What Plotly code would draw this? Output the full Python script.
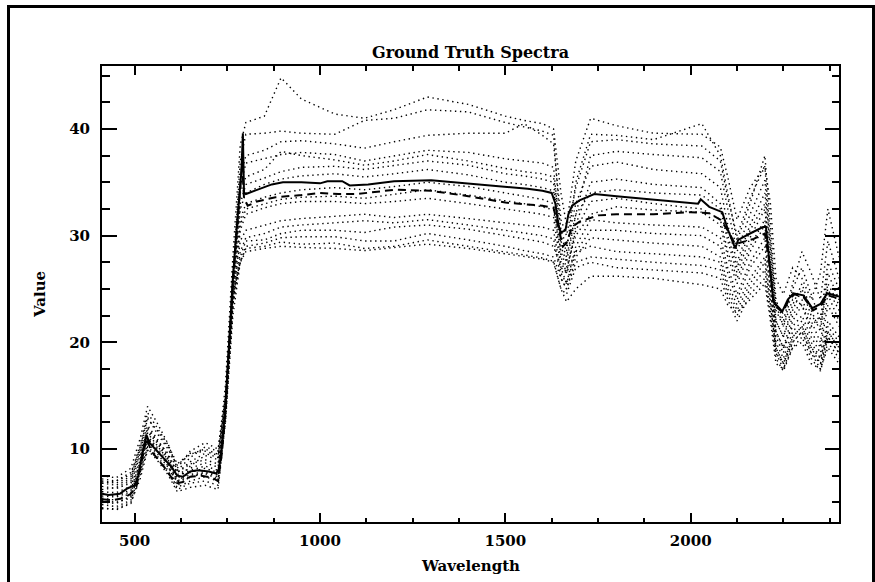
import plotly.graph_objects as go

# ---------------- data ----------------
wavelength = [412, 450, 490, 515, 535, 560, 590, 615, 650, 690, 725,
              745, 765, 785,
              800, 850, 895, 950, 1040, 1120, 1200, 1290, 1400, 1500, 1550, 1600, 1630,
              1650, 1665, 1690,
              1730, 1800, 1900, 2030, 2080, 2100, 2125, 2160, 2200,
              2215, 2230, 2250, 2275, 2300, 2325, 2350, 2370, 2400]

spectrum_01 = [6.8, 7.0, 7.8, 10.0, 13.0, 11.5, 10.0, 8.5, 9.5, 10.0, 9.5,
               16, 28, 38.5,
               40.6, 41.2, 44.8, 42.8, 41.4, 41.0, 41.8, 43.0, 42.3, 41.2, 40.8, 40.5, 40.0,
               34.0, 31.0, 37.0,
               41.0, 40.3, 39.6, 39.5, 38.3, 35.5, 31.5, 34.5, 36.5,
               33.0, 26.0, 24.5, 27.0, 26.0, 24.0, 26.5, 32.5, 28.0]
spectrum_02 = [5.0, 4.9, 5.6, 8.0, 10.5, 9.6, 8.3, 6.9, 7.4, 7.8, 7.4,
               14, 26, 37,
               39.5, 39.6, 39.8, 39.6, 39.5, 40.8, 41.0, 41.8, 41.6, 40.6, 40.2, 39.8, 39.4,
               30.0, 28.5, 35.0,
               39.5, 39.4, 39.0, 40.5, 37.5, 34.0, 29.5, 33.0, 37.5,
               31.0, 24.0, 22.0, 25.5, 28.5, 26.5, 24.0, 29.5, 26.0]
spectrum_03 = [7.5, 7.3, 8.2, 11.0, 14.0, 12.5, 10.5, 8.2, 9.8, 10.6, 10.0,
               15, 27, 35.5,
               37.5, 38.0, 38.8, 38.9, 38.6, 38.2, 38.8, 39.4, 39.6, 39.6, 40.5, 39.4, 38.6,
               31.5, 30.0, 34.5,
               38.8, 39.0, 38.6, 38.4, 37.0, 33.5, 30.0, 33.5, 36.5,
               30.0, 23.0, 21.5, 24.0, 23.5, 21.5, 22.5, 25.0, 23.0]
spectrum_04 = [4.5, 4.3, 4.9, 7.6, 10.0, 9.2, 7.8, 6.2, 6.8, 7.0, 6.6,
               13, 25, 34.5,
               36.8, 37.2, 37.6, 37.8, 37.6, 37.0, 37.5, 38.0, 37.8, 37.2, 37.0, 36.8, 36.4,
               29.0, 27.5, 32.0,
               37.5, 37.9, 37.6, 37.3, 36.0, 32.5, 28.5, 32.0, 35.2,
               28.5, 22.0, 20.5, 23.5, 25.5, 23.0, 21.0, 26.5, 24.0]
spectrum_05 = [6.2, 6.4, 7.0, 9.8, 12.2, 11.0, 9.4, 7.8, 8.6, 9.0, 8.6,
               14.5, 26, 34,
               35.5, 36.2, 37.9, 37.5, 37.1, 36.6, 37.0, 37.6, 37.0, 36.3, 36.0, 35.8, 35.5,
               30.5, 29.0, 33.0,
               36.5, 36.9, 36.2, 35.8, 34.5, 31.0, 27.5, 31.0, 34.0,
               29.0, 23.5, 21.5, 25.0, 27.0, 24.5, 22.0, 27.5, 25.0]
spectrum_06 = [5.6, 5.5, 6.0, 8.6, 11.5, 10.4, 9.0, 7.4, 8.0, 8.4, 8.0,
               13.5, 25, 33,
               34.8, 35.4, 36.0, 36.4, 36.5, 36.2, 36.6, 37.0, 36.6, 35.8, 35.6, 35.3, 35.0,
               28.0, 26.5, 31.0,
               35.0, 35.3, 34.8, 34.5, 33.0, 30.0, 27.0, 30.5, 33.0,
               27.5, 21.0, 19.5, 22.5, 24.0, 22.0, 20.0, 24.5, 22.0]
spectrum_07 = [7.0, 6.8, 7.4, 10.2, 12.8, 11.8, 10.2, 8.0, 9.2, 10.2, 9.8,
               15, 26.5, 32.5,
               34.0, 34.8, 35.3, 35.6, 35.8, 35.5, 35.8, 36.2, 35.7, 35.0, 34.8, 34.5, 34.2,
               29.5, 28.0, 32.0,
               34.0, 34.3, 34.0, 33.8, 32.5, 29.5, 26.5, 29.8, 32.5,
               27.0, 22.0, 20.5, 23.0, 25.0, 22.5, 21.5, 25.5, 23.5]
spectrum_08 = [5.2, 5.0, 5.4, 8.2, 11.0, 10.0, 8.6, 7.0, 7.6, 7.9, 7.6,
               13.5, 24.5, 31.5,
               33.0, 33.6, 34.0, 34.3, 34.5, 34.3, 34.6, 35.0, 34.6, 34.0, 33.7, 33.4, 33.0,
               27.5, 26.5, 30.5,
               33.2, 33.5, 33.0, 32.5, 31.5, 28.5, 26.0, 29.0, 31.5,
               26.5, 20.5, 19.0, 22.0, 23.5, 21.0, 19.5, 23.5, 21.5]
spectrum_09 = [6.5, 6.3, 6.8, 9.4, 11.8, 10.8, 9.2, 7.6, 8.2, 8.7, 8.3,
               14, 25, 31,
               32.5, 33.0, 33.4, 33.6, 33.7, 33.5, 33.9, 34.3, 33.8, 33.3, 33.0, 32.7, 32.4,
               28.5, 27.0, 30.0,
               32.0, 32.7, 32.4, 32.2, 31.0, 28.0, 25.5, 28.5, 31.0,
               26.0, 21.0, 19.5, 21.5, 22.5, 20.5, 19.0, 22.0, 20.5]
spectrum_10 = [4.8, 4.6, 5.2, 7.8, 10.2, 9.4, 8.0, 6.4, 7.0, 7.4, 7.0,
               12.5, 23.5, 30.5,
               32.0, 32.6, 33.0, 33.2, 33.2, 33.0, 33.2, 33.5, 33.0, 32.5, 32.3, 32.0, 31.7,
               27.0, 25.5, 29.0,
               31.5, 31.2, 31.0, 30.8, 29.8, 27.0, 24.5, 27.5, 29.8,
               25.0, 19.5, 18.0, 20.5, 21.5, 19.5, 18.0, 21.0, 19.5]
spectrum_11 = [6.0, 5.9, 6.5, 9.0, 11.6, 10.6, 9.0, 7.2, 8.4, 9.4, 9.0,
               14.5, 24.5, 29.5,
               30.5, 31.0, 31.4, 31.6, 31.8, 32.0, 31.7, 32.0, 31.6, 31.2, 31.0, 30.8, 30.5,
               26.5, 25.5, 28.5,
               30.5, 30.5, 30.2, 30.0, 29.0, 26.5, 24.0, 27.0, 29.0,
               25.0, 20.0, 18.5, 21.0, 22.0, 20.0, 18.5, 21.5, 20.0]
spectrum_12 = [5.4, 5.2, 5.9, 8.4, 11.0, 10.0, 8.4, 6.6, 7.4, 7.7, 7.2,
               13, 23.5, 28.5,
               29.8, 30.2, 30.8, 31.0, 31.2, 31.4, 31.2, 31.5, 31.0, 30.5, 30.2, 30.0, 29.7,
               26.0, 25.0, 28.0,
               29.8, 29.6, 29.3, 29.0, 28.0, 25.5, 23.5, 26.0, 28.0,
               24.0, 19.0, 17.5, 20.0, 21.0, 19.0, 17.5, 20.5, 19.0]
spectrum_13 = [6.8, 6.6, 7.2, 9.6, 12.0, 10.8, 9.6, 7.8, 8.8, 9.6, 9.2,
               14.5, 24, 28,
               29.5, 29.6, 30.2, 30.5, 30.5, 30.3, 30.8, 31.0, 30.6, 30.0, 29.7, 29.4, 29.0,
               27.0, 26.5, 28.5,
               29.0, 28.5, 28.3, 28.0, 27.5, 25.0, 23.0, 25.5, 27.5,
               23.5, 19.5, 18.0, 20.5, 21.5, 19.5, 18.5, 21.0, 19.5]
spectrum_14 = [4.4, 4.4, 5.0, 7.2, 9.9, 9.0, 7.6, 6.0, 6.4, 6.6, 6.2,
               12.5, 22.5, 27.5,
               29.0, 29.3, 29.8, 29.9, 29.9, 29.5, 29.5, 30.2, 29.6, 29.0, 28.6, 28.3, 28.0,
               26.0, 25.0, 27.5,
               28.0, 27.8, 27.5, 27.2, 26.8, 24.5, 22.5, 25.0, 26.8,
               23.0, 18.5, 17.3, 19.5, 20.5, 18.5, 17.3, 20.0, 18.5]
spectrum_15 = [5.8, 5.6, 6.2, 8.8, 11.2, 10.2, 8.8, 7.0, 7.8, 8.2, 7.8,
               13.5, 23.5, 27.5,
               28.8, 29.0, 29.4, 29.2, 29.3, 28.8, 29.0, 29.6, 29.0, 28.5, 28.2, 27.9, 27.6,
               25.0, 24.5, 27.0,
               27.5, 27.0, 26.8, 26.5, 26.0, 24.0, 22.0, 24.5, 26.0,
               22.5, 19.0, 18.0, 20.0, 21.0, 19.0, 18.0, 20.5, 19.0]
spectrum_16 = [7.2, 7.0, 7.6, 10.4, 13.4, 12.0, 10.4, 8.6, 9.6, 9.8, 9.4,
               15, 24.5, 27.5,
               28.5, 28.8, 29.0, 28.9, 28.8, 28.6, 28.9, 29.2, 28.8, 28.3, 28.0, 27.8, 27.5,
               25.0, 23.8, 25.0,
               26.2, 26.2, 26.0, 25.4, 25.0, 23.5, 22.8, 24.0, 25.5,
               22.0, 18.0, 17.5, 19.5, 20.0, 18.0, 17.5, 19.5, 18.0]

dotted_spectra = [spectrum_01, spectrum_02, spectrum_03, spectrum_04, spectrum_05,
                  spectrum_06, spectrum_07, spectrum_08, spectrum_09, spectrum_10,
                  spectrum_11, spectrum_12, spectrum_13, spectrum_14, spectrum_15,
                  spectrum_16]

# bold solid spectrum
solid_wavelength = [412, 430, 460, 480, 500, 510, 520, 532, 540, 555, 575, 600, 615, 630,
                    650, 670, 700, 720, 728, 735, 745, 755, 765, 775, 783, 788, 792, 795,
                    800, 830, 870, 900, 950, 1000, 1020, 1060, 1080, 1130, 1200, 1300,
                    1400, 1500, 1560, 1600, 1625, 1635, 1643, 1650, 1662, 1670, 1680,
                    1700, 1740, 1800, 1900, 2020, 2027, 2050, 2085, 2100, 2120, 2128,
                    2160, 2195, 2203, 2210, 2223, 2247, 2262, 2277, 2304, 2328, 2350,
                    2368, 2400]
solid_value = [5.8, 5.7, 5.8, 6.3, 6.6, 7.5, 9.5, 11.3, 10.6, 10.0, 9.3, 8.3, 7.5, 7.4,
               7.9, 8.0, 7.9, 7.7, 8.2, 10.0, 14.0, 20.0, 26.0, 30.5, 33.5, 36.0, 39.6, 34.0,
               33.9, 34.3, 34.8, 35.0, 35.0, 34.9, 35.1, 35.1, 34.7, 34.8, 35.1, 35.2,
               34.9, 34.6, 34.4, 34.2, 34.0, 33.0, 31.0, 30.3, 30.5, 32.0, 32.8,
               33.3, 33.9, 33.7, 33.4, 33.0, 33.4, 32.7, 32.2, 30.6, 28.8, 29.6,
               30.2, 30.8, 30.8, 28.4, 23.8, 22.9, 24.0, 24.6, 24.4, 23.2, 23.6,
               24.6, 24.3]

# bold dashed spectrum
dashed_wavelength = [412, 440, 470, 490, 505, 520, 532, 545, 560, 580, 600, 615, 630, 650,
                     680, 710, 725, 735, 745, 755, 765, 775, 785, 790, 795, 805, 830, 880,
                     950, 1000, 1050, 1100, 1200, 1300, 1400, 1500, 1600, 1630, 1645,
                     1655, 1665, 1680, 1700, 1750, 1800, 1900, 2000, 2050, 2080, 2100,
                     2120, 2140, 2170, 2200, 2210, 2225, 2248, 2265, 2280, 2305, 2330,
                     2350, 2370, 2400]
dashed_value = [5.3, 5.2, 5.4, 5.8, 6.5, 9.0, 11.0, 9.8, 9.2, 8.3, 7.3, 6.8, 6.9, 7.4,
                7.5, 7.3, 7.0, 9.5, 13.5, 19.5, 25.5, 30.0, 35.0, 36.8, 33.5, 32.8, 33.2, 33.6,
                33.8, 34.0, 33.9, 33.9, 34.3, 34.2, 33.7, 33.1, 32.8, 32.6, 30.5,
                29.0, 29.3, 30.8, 31.3, 31.9, 32.0, 32.0, 32.2, 32.1, 31.5, 30.5,
                29.2, 29.4, 29.7, 30.2, 28.0, 23.5, 22.8, 24.0, 24.5, 24.2, 23.0,
                23.4, 24.4, 24.1]

x_ticks = [500, 1000, 1500, 2000]
y_ticks = [10, 20, 30, 40]

# ---------------- figure ----------------
FONT = dict(family="DejaVu Serif", color="black", size=15, weight="bold")

fig = go.Figure()
for spec in dotted_spectra:
    fig.add_trace(go.Scatter(x=wavelength, y=spec, mode="lines",
                             line=dict(color="black", width=1.4, dash="1.4px,3.6px"),
                             showlegend=False, hoverinfo="skip"))
fig.add_trace(go.Scatter(x=dashed_wavelength, y=dashed_value, mode="lines",
                         line=dict(color="black", width=2, dash="8px,5px"),
                         showlegend=False, hoverinfo="skip"))
fig.add_trace(go.Scatter(x=solid_wavelength, y=solid_value, mode="lines",
                         line=dict(color="black", width=2),
                         showlegend=False, hoverinfo="skip"))

L, R, T, B = 102, 36, 66, 60
W_, H_ = 875, 582
pw, ph = W_ - L - R, H_ - T - B

def px_to_paper_x(px):
    return (px - L) / pw

def py_to_paper_y(py):
    return (H_ - B - py) / ph

axis_common = dict(showgrid=False, zeroline=False, showline=True, linecolor="black",
                   linewidth=2, mirror="ticks", ticks="inside", tickcolor="black",
                   tickwidth=1.5, tickfont=FONT)

fig.update_layout(
    width=W_, height=H_,
    margin=dict(l=L, r=R, t=T, b=B, autoexpand=False),
    paper_bgcolor="white", plot_bgcolor="white",
    title=dict(text="Ground Truth Spectra", x=0.5, xref="paper", xanchor="center",
               y=1 - 52 / H_, yanchor="middle", yref="container",
               font=dict(family="DejaVu Serif", color="black", size=16, weight="bold")),
    xaxis=dict(range=[412, 2400], tickmode="array", tickvals=x_ticks,
               ticktext=[str(v) for v in x_ticks], ticklen=9, ticklabelstandoff=4,
               minor=dict(dtick=125, tick0=0, ticklen=4.5, tickwidth=1.5,
                          ticks="inside", tickcolor="black"),
               **axis_common),
    yaxis=dict(range=[3.16, 45.9], tickmode="array", tickvals=y_ticks,
               ticktext=[str(v) for v in y_ticks], ticklen=14.5, ticklabelstandoff=7,
               minor=dict(dtick=2.5, tick0=0, ticklen=7.5, tickwidth=1.5,
                          ticks="inside", tickcolor="black"),
               **axis_common),
    annotations=[
        dict(text="Wavelength", xref="paper", yref="paper", x=0.5,
             y=py_to_paper_y(566), xanchor="center", yanchor="middle",
             showarrow=False, font=FONT),
        dict(text="Value", xref="paper", yref="paper", x=px_to_paper_x(40),
             y=0.5, xanchor="center", yanchor="middle", textangle=-90,
             showarrow=False, font=FONT),
    ],
    shapes=[
        dict(type="line", xref="paper", yref="paper",
             x0=px_to_paper_x(8.5), x1=px_to_paper_x(8.5),
             y0=py_to_paper_y(5), y1=py_to_paper_y(590),
             line=dict(color="black", width=3)),
        dict(type="line", xref="paper", yref="paper",
             x0=px_to_paper_x(7), x1=px_to_paper_x(880),
             y0=py_to_paper_y(6.5), y1=py_to_paper_y(6.5),
             line=dict(color="black", width=3)),
        dict(type="line", xref="paper", yref="paper",
             x0=px_to_paper_x(873.5), x1=px_to_paper_x(873.5),
             y0=py_to_paper_y(5), y1=py_to_paper_y(590),
             line=dict(color="black", width=3)),
    ],
)

fig.write_html("out.html")
